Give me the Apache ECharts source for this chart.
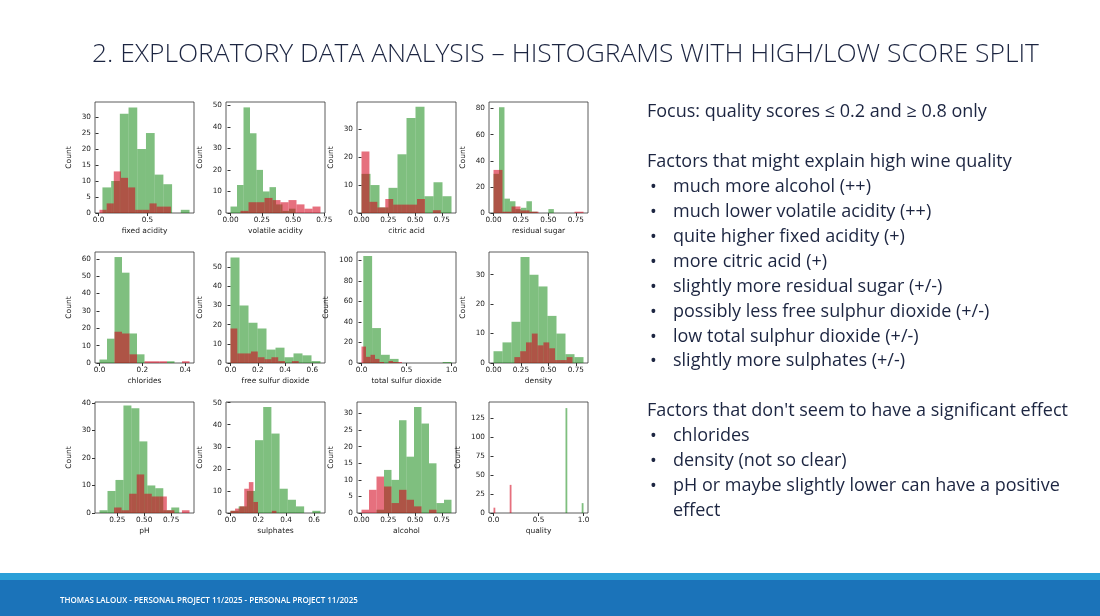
<!DOCTYPE html>
<html>
<head>
<meta charset="utf-8">
<script src="https://cdn.jsdelivr.net/npm/echarts@6/dist/echarts.min.js"></script>
<style>
  html, body { margin: 0; padding: 0; background: #fff; }
  #slide { width: 1100px; height: 616px; }
</style>
</head>
<body>
<div id="slide"></div>
<script>
const features = ['fixed acidity', 'volatile acidity', 'citric acid', 'residual sugar',
  'chlorides', 'free sulfur dioxide', 'total sulfur dioxide', 'density',
  'pH', 'sulphates', 'alcohol', 'quality'];

// high score group (quality >= 0.8), counts per bin
const fixedAcidityHigh = [8, 10, 31, 33, 20, 25, 12, 9, 0, 1];
const volatileAcidityHigh = [3, 13, 49, 37, 20, 10, 12, 4, 1, 2];
const citricAcidHigh = [14, 10, 2, 9, 21, 34, 38, 6, 11, 6];
const residualSugarHigh = [30, 81, 11, 9, 3, 4, 9, 1, 0, 0, 3];
const chloridesHigh = [2, 14, 61, 52, 17, 5, 0, 0, 0, 1];
const freeSulfurHigh = [55, 30, 21, 18, 7, 8, 3, 5, 4, 1];
const totalSulfurHigh = [104, 34, 8, 4, 0, 0, 0, 0, 0, 1];
const densityHigh = [4, 7, 14, 36, 30, 26, 16, 10, 3, 2];
const phHigh = [1, 8, 12, 39, 38, 26, 10, 9, 1, 2];
const sulphatesHigh = [1, 3, 10, 33, 48, 36, 11, 6, 3, 0, 1];
const alcoholHigh = [1, 13, 10, 28, 17, 32, 27, 15, 3, 4];
const qualityHigh = [138, 0, 0, 0, 0, 0, 0, 0, 0, 13];

// low score group (quality <= 0.2), counts per bin
const fixedAcidityLow = [1, 3, 13, 11, 8, 1, 1, 3, 2, 2];
const volatileAcidityLow = [1, 5, 5, 7, 6, 5, 6, 4, 2, 3];
const citricAcidLow = [22, 4, 2, 5, 3, 3, 3, 5, 0, 1];
const residualSugarLow = [33, 1, 5, 2, 1, 0, 0, 0, 0, 1];
const chloridesLow = [18, 17, 5, 0, 1, 1, 1, 0, 0, 1];
const freeSulfurLow = [18, 5, 5, 6, 3, 2, 3, 1, 0, 1];
const totalSulfurLow = [16, 6, 8, 4, 1, 0, 2, 1, 1, 0];
const densityLow = [2, 4, 7, 10, 6, 7, 5, 1, 1, 2];
const phLow = [2, 1, 7, 14, 7, 6, 6, 1, 0, 1];
const sulphatesLow = [1, 2, 3, 11, 14, 5, 0, 0, 0, 1];
const alcoholLow = [1, 7, 11, 8, 3, 7, 4, 2, 0, 1];
const qualityLow = [7, 0, 0, 0, 0, 0, 0, 0, 0, 37];

// first bin edge and bin width of each histogram
const highStart = [0.04, 0, 0, 0, 0, 0, 0.02, 0, 0.085, 0, 0.14, 0.8];
const highWidth = [0.089, 0.052, 0.084, 0.05, 0.035, 0.066, 0.098, 0.082, 0.074, 0.0588, 0.07, 0.02];
const lowStart = [0.01, 0.08, 0, 0, 0.07, 0, 0, 0.19, 0.22, 0, 0, 0];
const lowWidth = [0.073, 0.064, 0.074, 0.082, 0.035, 0.05, 0.05, 0.053, 0.07, 0.033, 0.07, 0.02];

// axis ranges and tick labels
const xMin = [-0.036, -0.036, -0.042, -0.041, -0.021, -0.033, -0.05, -0.041, 0.043, -0.032, -0.042, -0.05];
const xMax = [0.976, 0.756, 0.882, 0.861, 0.441, 0.693, 1.05, 0.861, 0.962, 0.679, 0.882, 1.05];
const yMax = [34.7, 51.5, 39.7, 85, 63.9, 57.9, 108, 37.7, 40.3, 50.3, 33.5, 146];
const xTicks = [
  [0, 0.5], [0, 0.25, 0.5, 0.75], [0, 0.25, 0.5, 0.75], [0, 0.25, 0.5, 0.75],
  [0, 0.2, 0.4], [0, 0.2, 0.4, 0.6], [0, 0.5, 1], [0, 0.25, 0.5, 0.75],
  [0.25, 0.5, 0.75], [0, 0.2, 0.4, 0.6], [0, 0.25, 0.5, 0.75], [0, 0.5, 1]
];
const xDecimals = [1, 2, 2, 2, 1, 1, 1, 2, 2, 1, 2, 1];
const yTicks = [
  [0, 5, 10, 15, 20, 25, 30], [0, 10, 20, 30, 40, 50], [0, 10, 20, 30], [0, 20, 40, 60, 80],
  [0, 10, 20, 30, 40, 50, 60], [0, 10, 20, 30, 40, 50], [0, 20, 40, 60, 80, 100], [0, 10, 20, 30],
  [0, 10, 20, 30, 40], [0, 10, 20, 30, 40, 50], [0, 5, 10, 15, 20, 25, 30], [0, 25, 50, 75, 100, 125]
];

const focusLine = 'Focus: quality scores \u2264 0.2 and \u2265 0.8 only';
const highHeading = 'Factors that might explain high wine quality';
const highFactors = ['much more alcohol (++)', 'much lower volatile acidity (++)',
  'quite higher fixed acidity (+)', 'more citric acid (+)', 'slightly more residual sugar (+/-)',
  'possibly less free sulphur dioxide (+/-)', 'low total sulphur dioxide (+/-)',
  'slightly more sulphates (+/-)'];
const noEffectHeading = 'Factors that don\'t seem to have a significant effect';
const noEffectFactors = ['chlorides', 'density (not so clear)',
  'pH or maybe slightly lower can have a positive', 'effect'];

const highCounts = [fixedAcidityHigh, volatileAcidityHigh, citricAcidHigh, residualSugarHigh,
  chloridesHigh, freeSulfurHigh, totalSulfurHigh, densityHigh, phHigh, sulphatesHigh, alcoholHigh, qualityHigh];
const lowCounts = [fixedAcidityLow, volatileAcidityLow, citricAcidLow, residualSugarLow,
  chloridesLow, freeSulfurLow, totalSulfurLow, densityLow, phLow, sulphatesLow, alcoholLow, qualityLow];

document.addEventListener('DOMContentLoaded', () => {
  const chart = echarts.init(document.getElementById('slide'), null, { renderer: 'canvas' });

  const colLeft = [95, 226, 357, 489];
  const rowTop = [102, 252, 402];
  const navy = '#1c2541';
  const axisColor = '#333';
  const tickFont = { fontSize: 7, color: '#222', fontFamily: 'DejaVu Sans' };

  const binsOf = (counts, start, width) =>
    counts.map((c, k) => [start + k * width, start + (k + 1) * width, c]);

  const renderBar = (color) => (params, api) => {
    const top = api.coord([api.value(0), api.value(2)]);
    const bottom = api.coord([api.value(1), 0]);
    return {
      type: 'rect',
      shape: { x: top[0], y: top[1], width: bottom[0] - top[0], height: bottom[1] - top[1] },
      style: { fill: color }
    };
  };

  const grids = [];
  const xAxes = [];
  const yAxes = [];
  const series = [];

  features.forEach((name, i) => {
    grids.push({
      left: colLeft[i % 4],
      top: rowTop[Math.floor(i / 4)],
      width: 99,
      height: 111,
      show: true,
      borderColor: axisColor,
      borderWidth: 0.8,
      backgroundColor: 'transparent'
    });
    xAxes.push({
      gridIndex: i,
      type: 'value',
      min: xMin[i],
      max: xMax[i],
      name: name,
      nameLocation: 'middle',
      nameGap: 14,
      nameTextStyle: Object.assign({}, tickFont, { fontSize: 7.5 }),
      axisLine: { show: false },
      splitLine: { show: false },
      axisTick: { show: true, length: 3, lineStyle: { color: axisColor }, customValues: xTicks[i] },
      axisLabel: Object.assign({}, tickFont, {
        fontSize: 7.3,
        margin: 4,
        customValues: xTicks[i],
        formatter: (v) => Number(v).toFixed(xDecimals[i])
      })
    });
    const digits = String(yTicks[i][yTicks[i].length - 1]).length;
    yAxes.push({
      gridIndex: i,
      type: 'value',
      min: 0,
      max: yMax[i],
      name: 'Count',
      nameLocation: 'middle',
      nameRotate: 90,
      nameGap: 13 + digits * 4.5,
      nameTextStyle: Object.assign({}, tickFont, { fontSize: 7.5 }),
      axisLine: { show: false },
      splitLine: { show: false },
      axisTick: { show: true, length: 3, lineStyle: { color: axisColor }, customValues: yTicks[i] },
      axisLabel: Object.assign({}, tickFont, { fontSize: 7.3, margin: 4, customValues: yTicks[i] })
    });
    series.push({
      type: 'custom',
      name: 'high',
      xAxisIndex: i,
      yAxisIndex: i,
      silent: true,
      data: binsOf(highCounts[i], highStart[i], highWidth[i]),
      encode: { x: [0, 1], y: 2 },
      renderItem: renderBar('rgba(0, 128, 0, 0.5)')
    });
    series.push({
      type: 'custom',
      name: 'low',
      xAxisIndex: i,
      yAxisIndex: i,
      silent: true,
      data: binsOf(lowCounts[i], lowStart[i], lowWidth[i]),
      encode: { x: [0, 1], y: 2 },
      renderItem: renderBar('rgba(210, 0, 25, 0.56)')
    });
  });

  const textFont = '"Open Sans", "Noto Sans", sans-serif';
  const graphics = [
    {
      type: 'text', left: 92, top: 41,
      style: {
        text: '2. EXPLORATORY DATA ANALYSIS \u2013 HISTOGRAMS WITH HIGH/LOW SCORE SPLIT',
        fill: navy, font: '300 26.4px ' + textFont
      }
    },
    { type: 'rect', shape: { x: 0, y: 573, width: 1100, height: 7 }, style: { fill: '#2a9fd8' } },
    { type: 'rect', shape: { x: 0, y: 580, width: 1100, height: 36 }, style: { fill: '#1b73b9' } },
    {
      type: 'text', left: 60, top: 597,
      style: {
        text: 'THOMAS LALOUX - PERSONAL PROJECT 11/2025 - PERSONAL PROJECT 11/2025',
        fill: '#fff', font: '600 8px ' + textFont
      }
    }
  ];

  const lineStep = 24.9;
  const addLine = (txt, y, indent, bullet) => {
    if (bullet) {
      graphics.push({ type: 'text', left: 650, top: y - 7, style: { text: '\u2022', fill: navy, font: '18px ' + textFont } });
    }
    graphics.push({
      type: 'text', left: indent ? 673 : 647, top: y - 8,
      style: { text: txt, fill: navy, font: '18px ' + textFont }
    });
  };
  addLine(focusLine, 111, false, false);
  addLine(highHeading, 161, false, false);
  highFactors.forEach((t, k) => addLine(t, 186 + k * lineStep, true, true));
  addLine(noEffectHeading, 410, false, false);
  noEffectFactors.forEach((t, k) => addLine(t, 435 + k * lineStep, true, k < 3));

  chart.setOption({
    animation: false,
    grid: grids,
    xAxis: xAxes,
    yAxis: yAxes,
    series: series,
    graphic: graphics
  });

  window.addEventListener('resize', () => chart.resize());
});
</script>
</body>
</html>
